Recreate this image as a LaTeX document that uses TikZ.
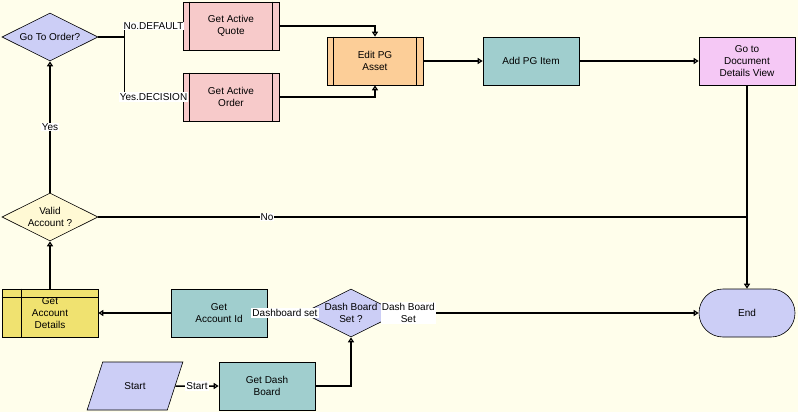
\documentclass[tikz,border=0pt]{standalone}
\usepackage{fontspec}
\setmainfont{Liberation Sans}
\usetikzlibrary{positioning,shapes.geometric,arrows.meta}

\definecolor{bgfill}{RGB}{255,254,235}
\definecolor{bluefill}{RGB}{204,206,246}
\definecolor{paleyellow}{RGB}{255,249,212}
\definecolor{pinkfill}{RGB}{247,202,202}
\definecolor{orangefill}{RGB}{252,206,152}
\definecolor{tealfill}{RGB}{160,206,206}
\definecolor{violetfill}{RGB}{245,200,245}
\definecolor{yellowfill}{RGB}{240,226,112}

\tikzset{
  box/.style={draw=black, line width=0.6pt, minimum width=96pt, minimum height=48pt, inner sep=1pt, align=center},
  proc/.style={box, fill=tealfill},
  subproc/.style={box, fill=pinkfill},
  decision/.style={draw=black, line width=0.6pt, shape=diamond, aspect=2, inner sep=0pt, minimum width=96pt, minimum height=48pt, align=center},
  conn/.style={line width=1.5pt, -{Triangle[open, length=5pt, width=6pt]}},
  lbl/.style={fill=white, inner sep=1pt},
}

\begin{document}
\begin{tikzpicture}[x=1pt, y=-1pt]

\fill [bgfill] (0,0) rectangle (798,412);
\useasboundingbox (0,0) rectangle (798,412);

\fontsize{10}{12}\selectfont
\node [decision, fill=bluefill] (gto) at (50,37) {Go To Order?};
\node [subproc] (gaq) at (231,26) {Get Active\\Quote};
\node [subproc] (gao) at (231,97) {Get Active\\Order};
\node [subproc, fill=orangefill] (epa) at (375,61) {Edit PG\\Asset};
\node [proc] (api) at (531,61) {Add PG Item};
\node [box, fill=violetfill] (gdv) at (747,61) {Go to\\Document\\Details View};
\node [decision, fill=paleyellow] (va) at (50,217) {Valid\\Account ?};
\node [box, fill=yellowfill] (gad) at (50,313) {Get\\Account\\Details};
\node [proc] (gai) at (219,313) {Get\\Account Id};
\node [decision, fill=bluefill] (dbs) at (351,313) {Dash Board\\Set ?};
\node [draw=black, line width=0.6pt, fill=bluefill, trapezium, trapezium left angle=64, trapezium right angle=116, trapezium stretches=true, minimum width=96pt, minimum height=48pt] (st) at (135,386) {Start};
\node [proc] (gdb) at (267,386) {Get Dash\\Board};
\node [box, rounded corners=24pt, fill=bluefill] (en) at (747,313) {End};

% inner bars
\foreach \n in {gaq, gao, epa} {
  \draw [line width=0.6pt] ([xshift=7]\n.north west) -- ([xshift=7]\n.south west);
  \draw [line width=0.6pt] ([xshift=-7]\n.north east) -- ([xshift=-7]\n.south east);
}
\draw [line width=0.6pt] ([xshift=20]gad.north west) -- ([xshift=20]gad.south west);
\draw [line width=0.6pt] ([yshift=-9]gad.north west) -- ([yshift=-9]gad.north east);

\draw [conn] (gto.east) -- ++(26,0) |- node [lbl, pos=0.75] {No.DEFAULT} (gaq.west);
\draw [conn] (gto.east) -- ++(26,0) |- node [lbl, pos=0.75] {Yes.DECISION} (gao.west);
\draw [conn] (gaq.east) -| (epa.north);
\draw [conn] (gao.east) -| (epa.south);
\draw [conn] (epa) -- (api);
\draw [conn] (api) -- (gdv);
\draw [conn] (gdv) -- (en);
\draw [line width=1.5pt] (va.east) -- (va.east -| gdv.south) node [lbl, pos=0.26] {No};
\draw [conn] (va) -- node [lbl] {Yes} (gto);
\draw [conn] (gad) -- (va);
\draw [conn] (gai) -- (gad);
\draw [conn] (dbs) -- node [lbl] {Dashboard set} (gai);
\draw [conn] (dbs) -- node [lbl, pos=0.03, align=center] {Dash Board\\Set} (en);
\draw [conn] (st) -- node [lbl] {Start} (gdb);
\draw [conn] (gdb) -| (dbs);

\end{tikzpicture}
\end{document}
